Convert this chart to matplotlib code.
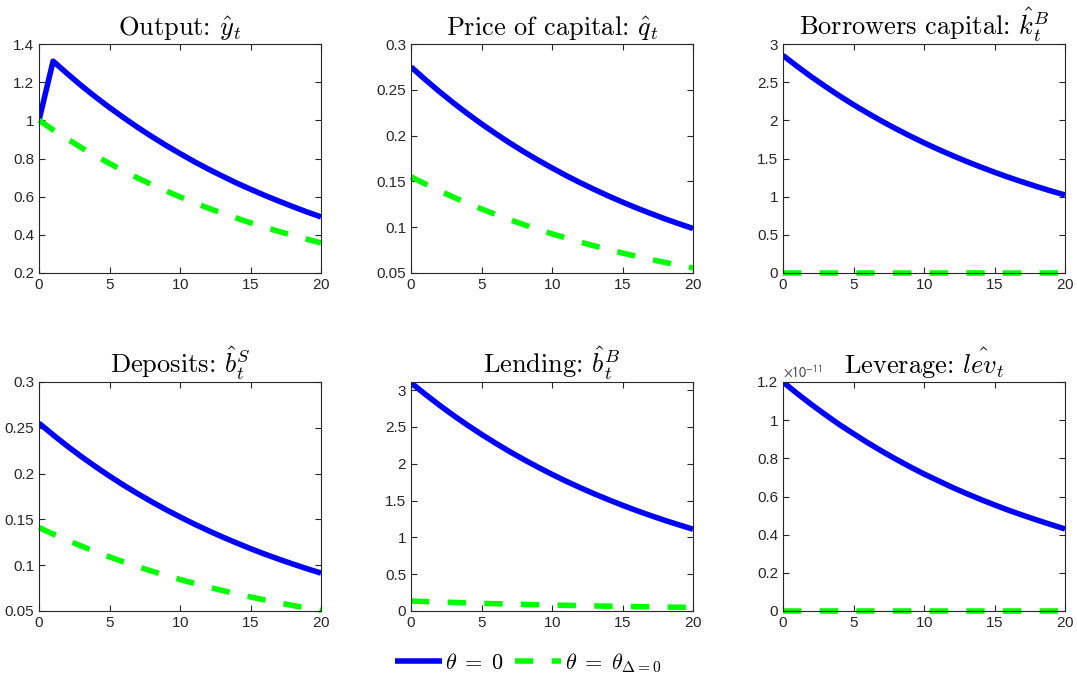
import numpy as np
import matplotlib
matplotlib.use("Agg")
import matplotlib.pyplot as plt
from matplotlib.ticker import FuncFormatter, MultipleLocator

plt.rcParams['font.family'] = ['Liberation Sans', 'DejaVu Sans']
plt.rcParams['mathtext.fontset'] = 'cm'
plt.rcParams['axes.formatter.use_mathtext'] = True

t = np.arange(0, 21)

# impulse responses, theta = 0 (blue) and theta = theta_{Delta=0} (green)
y_blue = [1.000, 1.310, 1.245, 1.182, 1.123, 1.067, 1.014, 0.963, 0.915, 0.869, 0.826,
          0.784, 0.745, 0.708, 0.672, 0.639, 0.607, 0.577, 0.548, 0.520, 0.494]
y_green = [1.000, 0.950, 0.903, 0.857, 0.815, 0.774, 0.735, 0.698, 0.663, 0.630, 0.599,
           0.569, 0.540, 0.513, 0.488, 0.463, 0.440, 0.418, 0.397, 0.377, 0.358]

q_blue = [0.2750, 0.2613, 0.2482, 0.2358, 0.2240, 0.2128, 0.2022, 0.1920, 0.1824, 0.1733, 0.1647,
          0.1564, 0.1486, 0.1412, 0.1341, 0.1274, 0.1210, 0.1150, 0.1092, 0.1038, 0.0986]
q_green = [0.1550, 0.1473, 0.1399, 0.1329, 0.1262, 0.1199, 0.1139, 0.1082, 0.1028, 0.0977, 0.0928,
           0.0882, 0.0838, 0.0796, 0.0756, 0.0718, 0.0682, 0.0648, 0.0616, 0.0585, 0.0556]

kB_blue = [2.850, 2.708, 2.572, 2.444, 2.321, 2.205, 2.095, 1.990, 1.891, 1.796, 1.706,
           1.621, 1.540, 1.463, 1.390, 1.320, 1.254, 1.192, 1.132, 1.075, 1.022]
kB_green = [0.0] * 21

bS_blue = [0.2550, 0.2423, 0.2301, 0.2186, 0.2077, 0.1973, 0.1874, 0.1781, 0.1692, 0.1607, 0.1527,
           0.1450, 0.1378, 0.1309, 0.1244, 0.1181, 0.1122, 0.1066, 0.1013, 0.0962, 0.0914]
bS_green = [0.1410, 0.1340, 0.1273, 0.1209, 0.1148, 0.1091, 0.1036, 0.0985, 0.0935, 0.0889, 0.0844,
            0.0802, 0.0762, 0.0724, 0.0688, 0.0653, 0.0621, 0.0590, 0.0560, 0.0532, 0.0505]

bB_blue = [3.100, 2.945, 2.798, 2.658, 2.525, 2.399, 2.279, 2.165, 2.057, 1.954, 1.856,
           1.763, 1.675, 1.591, 1.512, 1.436, 1.364, 1.296, 1.231, 1.170, 1.111]
bB_green = [0.135, 0.128, 0.122, 0.116, 0.110, 0.104, 0.099, 0.094, 0.090, 0.085, 0.081,
            0.077, 0.073, 0.069, 0.066, 0.063, 0.059, 0.056, 0.054, 0.051, 0.048]

LEV_SCALE = 1e-11
lev_blue = [1.200, 1.140, 1.083, 1.029, 0.977, 0.929, 0.882, 0.838, 0.796, 0.756, 0.718,
            0.683, 0.648, 0.616, 0.585, 0.556, 0.528, 0.502, 0.477, 0.453, 0.430]
lev_green = [0.0] * 21

titles = ['Output: $\\hat{y}_t$', 'Price of capital: $\\hat{q}_t$',
          'Borrowers capital: $\\hat{k}_t^B$', 'Deposits: $\\hat{b}_t^S$',
          'Lending: $\\hat{b}_t^B$', 'Leverage: $\\hat{lev}_t$']
blues = [y_blue, q_blue, kB_blue, bS_blue, bB_blue, [v * LEV_SCALE for v in lev_blue]]
greens = [y_green, q_green, kB_green, bS_green, bB_green, lev_green]
ylims = [(0.2, 1.4), (0.05, 0.3), (0, 3), (0.05, 0.3), (0, 3.11), (0, 1.2 * LEV_SCALE)]
ysteps = [0.2, 0.05, 0.5, 0.05, 0.5, 0.2 * LEV_SCALE]

W, H = 1077, 682
lefts = [39, 411, 783]
tops = [44, 382]
aw, ah = 282, 229

fig = plt.figure(figsize=(W / 100, H / 100), dpi=100)
for i in range(6):
    r, c = divmod(i, 3)
    ax = fig.add_axes([lefts[c] / W, 1 - (tops[r] + ah) / H, aw / W, ah / H])
    l1, = ax.plot(t, blues[i], color='#0000ff', lw=4, solid_capstyle='butt')
    l2, = ax.plot(t, greens[i], color='#00ff00', lw=4, dashes=(3.3, 3.3), clip_on=False)
    ax.set_xlim(0, 20)
    ax.set_ylim(*ylims[i])
    ax.xaxis.set_major_locator(MultipleLocator(5))
    ax.yaxis.set_major_locator(MultipleLocator(ysteps[i]))
    if i == 5:
        ax.yaxis.set_major_formatter(FuncFormatter(lambda v, p: '%g' % round(v / LEV_SCALE, 6)))
        ax.text(0.0, 1.008, '$\\times10^{-11}$', transform=ax.transAxes, fontsize=10,
                color='#404040', ha='left', va='bottom', math_fontfamily='stixsans')
    else:
        ax.yaxis.set_major_formatter(FuncFormatter(lambda v, p: '%g' % round(v, 6)))
    ax.tick_params(direction='in', top=True, right=True, labelsize=11, colors='#262626',
                   length=4, width=0.8)
    for s in ax.spines.values():
        s.set_color('#262626')
        s.set_linewidth(0.8)
    ax.set_title(titles[i], fontsize=19, family='cmr10', pad=6)

fig.legend([l1, l2], ['$\\theta\\;=\\;0$', '$\\theta\\;=\\;\\theta_{\\Delta=0}$'], loc='center',
           bbox_to_anchor=(528 / W, 1 - 663 / H), ncol=2, frameon=False, fontsize=16,
           handlelength=2.1, columnspacing=0.5, handletextpad=0.15)

fig.savefig('out.png', dpi=100)
